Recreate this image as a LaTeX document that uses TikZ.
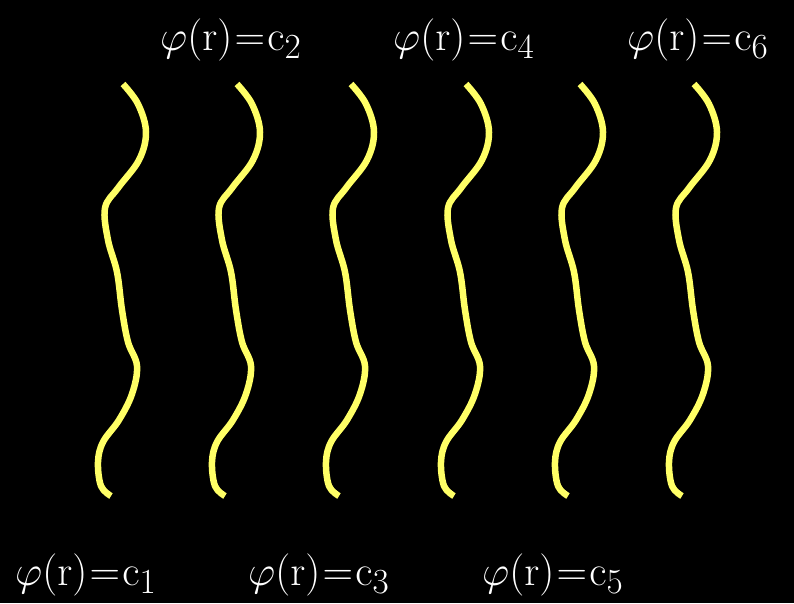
\documentclass[tikz,border=0pt]{standalone}
\usepackage{graphicx}
\definecolor{wavey}{HTML}{FFFF66}
\newcommand{\phieq}[1]{\scalebox{1.7}{\Huge$\varphi(\mathrm{r})\mkern-4mu=\mkern-4mu\mathrm{c}_{#1}$}}
\begin{document}
\begin{tikzpicture}[x=1pt,y=-1pt,
  wave/.style={draw=wavey,line width=6.5pt,line cap=butt,line join=round},
  lab/.style={text=white,anchor=base west,inner sep=0pt}]
\fill[black] (0,0) rectangle (794,603);
\useasboundingbox (0,0) rectangle (794,603);
\foreach \dx in {0,114,228,343,457,571}{
  \draw[wave,xshift=\dx pt] plot[smooth,tension=0.6] coordinates {
    (123,84) (138,104) (146,132) (139,160) (118,188) (105,208) (108,240)
    (117,272) (122,310) (128,342) (137,366) (132,394) (119,420) (103,442)
    (98,462) (101,486) (111,496)};
}
\node[lab] (t2) at (160,50) {\phieq{2}};
\node[lab] (t4) at (393,50) {\phieq{4}};
\node[lab] (t6) at (627,50) {\phieq{6}};
\node[lab] (b1) at (15,585) {\phieq{1}};
\node[lab] (b3) at (248,585) {\phieq{3}};
\node[lab] (b5) at (482,585) {\phieq{5}};
\end{tikzpicture}
\end{document}
